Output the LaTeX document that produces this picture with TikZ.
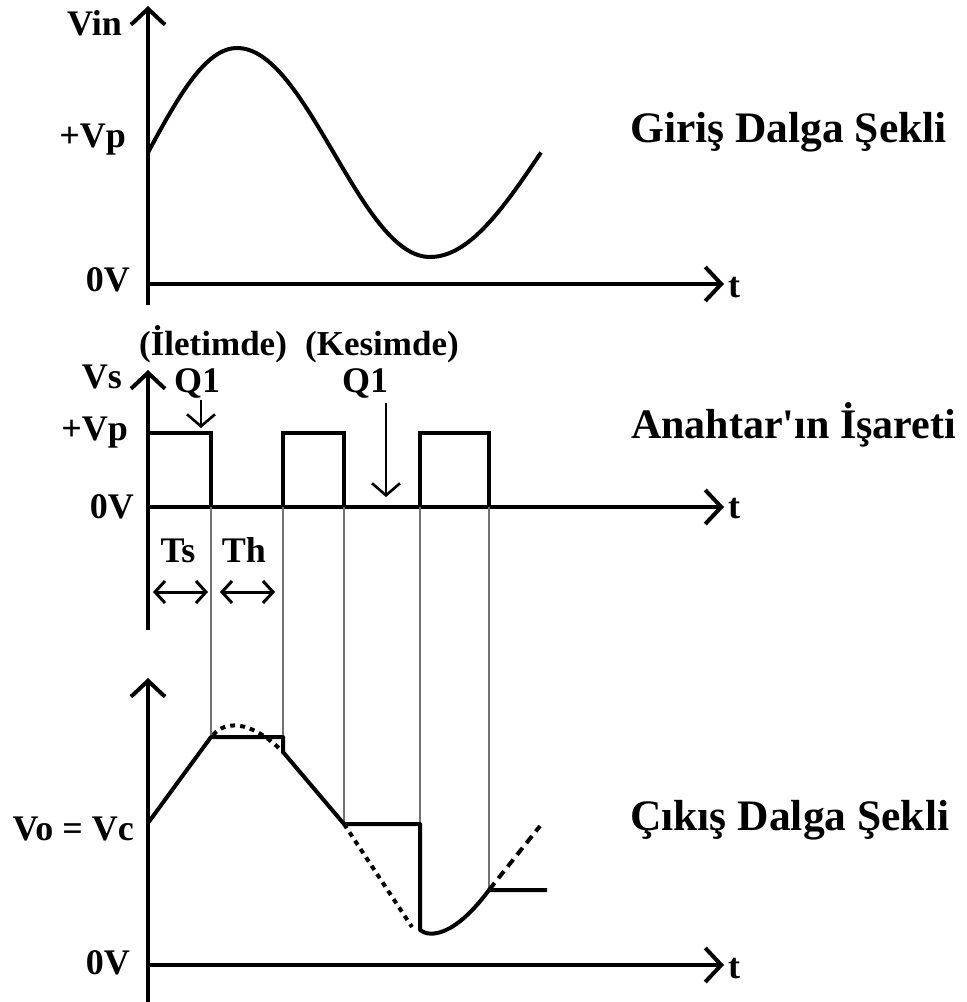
\documentclass[tikz,border=0pt]{standalone}
\usepackage{fontspec}
\setmainfont{Liberation Serif}
\usetikzlibrary{arrows.meta}
\begin{document}
\begin{tikzpicture}[x=1pt,y=-1pt,
  lbl/.style={font=\fontsize{36}{40}\selectfont\bfseries, inner sep=0pt},
  slbl/.style={font=\fontsize{35}{40}\selectfont\bfseries, inner sep=0pt},
  ttl/.style={font=\fontsize{43.5}{48}\selectfont\bfseries, inner sep=0pt, anchor=base west},
  axis/.style={line width=4pt, -{Straight Barb[length=16pt,width=34pt]}},
  sig/.style={line width=4pt, line join=miter},
  guide/.style={line width=1.4pt, draw=black!55},
  qarrow/.style={line width=2.6pt, -{Straight Barb[length=12pt,width=28pt]}},
  tarrow/.style={line width=3pt, {Straight Barb[length=10pt,width=22pt]}-{Straight Barb[length=10pt,width=22pt]}},
  dotsig/.style={line width=4pt, dash pattern=on 5pt off 5pt},
  dashsig/.style={line width=4pt, dash pattern=on 9pt off 6pt}
]
\useasboundingbox (0,0) rectangle (967,1002);

% ---------- top panel ----------
\coordinate (a1b) at (148,305); \coordinate (a1t) at (148,6);
\coordinate (a1o) at (148,284); \coordinate (a1r) at (724,284);
\draw[axis] (a1b) -- (a1t);
\draw[axis] (a1o) -- (a1r);
\draw[sig, line join=round]
  plot[domain=148:237, samples=40] (\x, {152.5-104.5*sin((\x-148)*1.011236)})
  -- plot[domain=237:430, samples=70] (\x, {152.5-104.5*cos((\x-237)*0.932642)})
  -- plot[domain=430:541, samples=40] (\x, {152.5+104.5*cos((\x-430)*0.810811)});
\node[lbl, anchor=base east] (vin) at (122,35) {Vin};
\node[lbl, anchor=base east] (vp1) at (126,147) {+Vp};
\node[lbl, anchor=base east] (ov1) at (130,291) {0V};
\node[lbl, anchor=base west] (t1) at (728,297) {t};
\node[ttl] (title1) at (630,142) {Giriş Dalga Şekli};

% ---------- middle panel ----------
\coordinate (a2b) at (148,630); \coordinate (a2t) at (148,370);
\coordinate (a2o) at (148,507); \coordinate (a2r) at (724,507);
\draw[axis] (a2b) -- (a2t);
\draw[axis] (a2o) -- (a2r);
% guide lines
\draw[guide] (211,507) -- (211,737);
\draw[guide] (283,507) -- (283,737);
\draw[guide] (344,507) -- (344,824);
\draw[guide] (420,507) -- (420,824);
\draw[guide] (489,507) -- (489,890);
% pulses
\draw[sig] (148,433) -- (211,433) -- (211,507);
\draw[sig] (283,507) -- (283,433) -- (344,433) -- (344,507);
\draw[sig] (420,507) -- (420,433) -- (489,433) -- (489,507);
\node[lbl, anchor=base east] (vs) at (122,388) {Vs};
\node[lbl, anchor=base east] (vp2) at (128,440) {+Vp};
\node[lbl, anchor=base east] (ov2) at (134,518) {0V};
\node[lbl, anchor=base west] (t2) at (728,518) {t};
\node[slbl, anchor=base west] (ilet) at (139,355) {(İletimde)};
\node[slbl, anchor=base west] (kes) at (305,355) {(Kesimde)};
\node[lbl, anchor=base west] (q1a) at (174,392) {Q1};
\node[lbl, anchor=base west] (q1b) at (342,392) {Q1};
\coordinate (qa1) at (201,400); \coordinate (qa2) at (201,428);
\coordinate (qb1) at (386,403); \coordinate (qb2) at (386,497);
\draw[qarrow] (qa1) -- (qa2);
\draw[qarrow] (qb1) -- (qb2);
\node[lbl, anchor=base] (ts) at (178,562) {Ts};
\node[lbl, anchor=base] (th) at (244,562) {Th};
\coordinate (ts1) at (153,592); \coordinate (ts2) at (208,592);
\coordinate (th1) at (220,592); \coordinate (th2) at (275,592);
\draw[tarrow] (ts1) -- (ts2);
\draw[tarrow] (th1) -- (th2);
\node[ttl, font=\fontsize{42}{48}\selectfont\bfseries] (title2) at (631,438) {Anahtar\textquotesingle ın İşareti};

% ---------- bottom panel ----------
\coordinate (a3b) at (148,1002); \coordinate (a3t) at (148,678);
\coordinate (a3o) at (148,965); \coordinate (a3r) at (724,965);
\draw[axis] (a3b) -- (a3t);
\draw[axis] (a3o) -- (a3r);
\draw[sig, line join=round] (148,823) -- (211,737) -- (283,737) -- (283,752) -- (344,824)
  -- (420,824) -- (420,930) .. controls (430,938) and (455,936) .. (489,890) -- (547,890);
\draw[dotsig] (213,735) .. controls (225,721) and (250,719) .. (283,752);
\draw[dotsig] (344,824) -- (412,927);
\draw[dashsig] (489,890) -- (540,826);
\node[lbl, anchor=base east] (vo) at (134,840) {Vo = Vc};
\node[lbl, anchor=base east] (ov3) at (130,974) {0V};
\node[lbl, anchor=base west] (t3) at (728,978) {t};
\node[ttl] (title3) at (630,830) {Çıkış Dalga Şekli};
\end{tikzpicture}
\end{document}
